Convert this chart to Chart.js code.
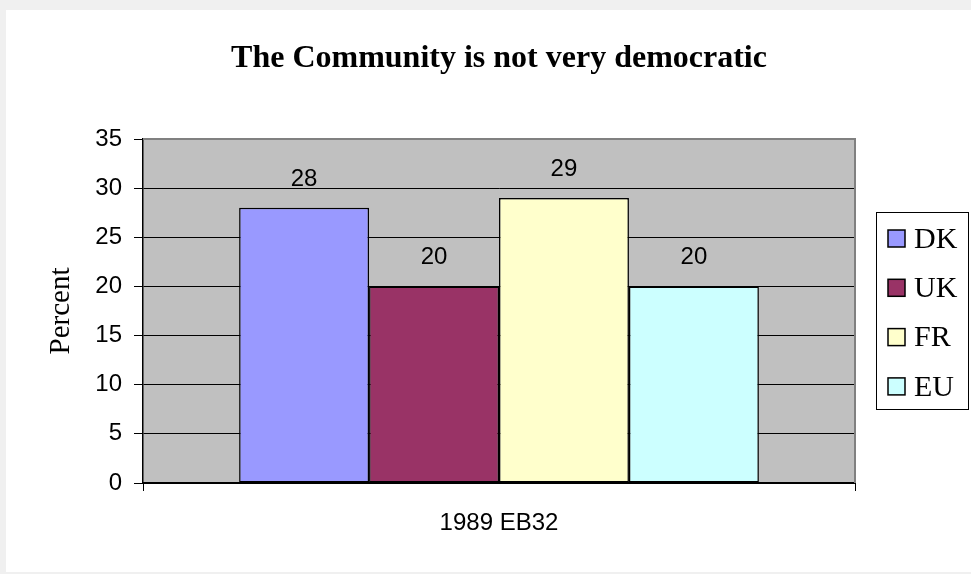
<!DOCTYPE html>
<html>
<head>
<meta charset="utf-8">
<title>The Community is not very democratic</title>
<script src="https://cdn.jsdelivr.net/npm/chart.js@4.4.0/dist/chart.umd.min.js"></script>
<style>
    html, body { margin: 0; padding: 0; background: #f0f0f0; overflow: hidden; }
    #panel { position: absolute; left: 6px; top: 10px; width: 965px; height: 562px; background: #fff; }
    #chart { position: absolute; left: 0; top: 0; }
</style>
</head>
<body>
<div id="panel"></div>
<canvas id="chart" width="971" height="574"></canvas>
<script>
    "use strict";

    // Data
    var categories = ["1989 EB32"];
    var seriesNames = ["DK", "UK", "FR", "EU"];
    var seriesValues = [28, 20, 29, 20];
    var seriesColors = ["#9999ff", "#993366", "#ffffcc", "#ccffff"];
    var yTicks = [0, 5, 10, 15, 20, 25, 30, 35];

    var serif = "'Liberation Serif', 'Times New Roman', serif";
    var sans = "'Liberation Sans', Arial, sans-serif";

    var datasets = seriesNames.map(function (name, i) {
        return {
            label: name,
            data: [seriesValues[i]],
            backgroundColor: seriesColors[i],
            borderColor: "#000",
            borderWidth: 1.5,
            borderSkipped: false,
            categoryPercentage: 0.73,
            barPercentage: 1
        };
    });

    // Plot background + gray frame
    var plotArea = {
        id: "plotArea",
        beforeDraw: function (chart) {
            var a = chart.chartArea, ctx = chart.ctx;
            ctx.save();
            ctx.fillStyle = "#c0c0c0";
            ctx.fillRect(a.left, a.top, a.right - a.left, a.bottom - a.top);
            ctx.restore();
        },
        beforeDatasetsDraw: function (chart) {
            var a = chart.chartArea, ctx = chart.ctx;
            ctx.save();
            ctx.strokeStyle = "#808080";
            ctx.lineWidth = 2;
            ctx.beginPath();
            ctx.moveTo(a.left, a.top);
            ctx.lineTo(a.right, a.top);
            ctx.lineTo(a.right, a.bottom);
            ctx.stroke();
            ctx.restore();
        }
    };

    // Value labels above bars
    var valueLabels = {
        id: "valueLabels",
        afterDatasetsDraw: function (chart) {
            var ctx = chart.ctx;
            ctx.save();
            ctx.font = "24px " + sans;
            ctx.fillStyle = "#000";
            ctx.textAlign = "center";
            ctx.textBaseline = "alphabetic";
            chart.data.datasets.forEach(function (ds, i) {
                chart.getDatasetMeta(i).data.forEach(function (bar, j) {
                    ctx.fillText(ds.data[j], bar.x, bar.y - 22);
                });
            });
            ctx.restore();
        }
    };

    // Boxed legend on the right
    var boxLegend = {
        id: "boxLegend",
        afterDraw: function (chart) {
            var ctx = chart.ctx;
            var left = 876, top = 212, w = 92, h = 197;
            ctx.save();
            ctx.fillStyle = "#fff";
            ctx.fillRect(left, top, w, h);
            ctx.strokeStyle = "#000";
            ctx.lineWidth = 1;
            ctx.strokeRect(left + 0.5, top + 0.5, w, h);
            ctx.font = "30px " + serif;
            ctx.textAlign = "left";
            ctx.textBaseline = "middle";
            chart.data.datasets.forEach(function (ds, i) {
                var cy = 239 + i * 49.3;
                ctx.fillStyle = ds.backgroundColor;
                ctx.fillRect(888, cy - 9, 17, 17);
                ctx.lineWidth = 1.5;
                ctx.strokeStyle = "#000";
                ctx.strokeRect(888, cy - 9, 17, 17);
                ctx.fillStyle = "#000";
                ctx.fillText(ds.label, 914, cy + 1);
            });
            ctx.restore();
        }
    };

    var ctx1 = document.getElementById("chart").getContext("2d");
    var myChart = new Chart(ctx1, {
        type: "bar",
        data: {
            labels: categories,
            datasets: datasets
        },
        plugins: [plotArea, valueLabels, boxLegend],
        options: {
            responsive: false,
            animation: false,
            devicePixelRatio: 1,
            layout: { padding: { left: 0, right: 116, top: 0, bottom: 0 } },
            plugins: {
                legend: { display: false },
                tooltip: { enabled: false },
                title: {
                    display: true,
                    fullSize: false,
                    text: "The Community is not very democratic",
                    color: "#000",
                    font: { family: serif, size: 32, weight: "bold", lineHeight: 1.2 },
                    padding: { top: 40, bottom: 60.6 }
                }
            },
            scales: {
                x: {
                    grid: {
                        display: true,
                        offset: true,
                        drawOnChartArea: false,
                        drawTicks: true,
                        tickLength: 8,
                        color: "#000"
                    },
                    border: { color: "#000", width: 2 },
                    ticks: {
                        color: "#000",
                        padding: 18,
                        font: { family: sans, size: 24 }
                    },
                    afterFit: function (scale) { scale.height = 91; }
                },
                y: {
                    min: yTicks[0],
                    max: yTicks[yTicks.length - 1],
                    afterBuildTicks: function (scale) {
                        scale.ticks = yTicks.map(function (v) { return { value: v }; });
                    },
                    grid: {
                        color: "#000",
                        lineWidth: 1,
                        tickLength: 9,
                        tickColor: "#000"
                    },
                    border: { color: "#000", width: 1.5 },
                    ticks: {
                        color: "#000",
                        padding: 12,
                        font: { family: sans, size: 24 }
                    },
                    title: {
                        display: true,
                        text: "Percent",
                        color: "#000",
                        font: { family: serif, size: 29, lineHeight: 1.2 },
                        padding: { top: 44, bottom: 0 }
                    },
                    afterFit: function (scale) { scale.width = 143; }
                }
            }
        }
    });
</script>
</body>
</html>
